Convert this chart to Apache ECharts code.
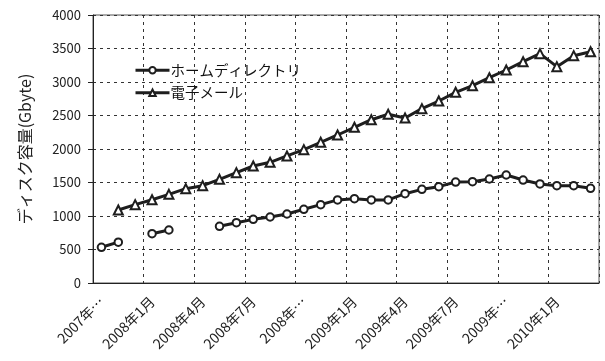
<!DOCTYPE html>
<html>
<head>
<meta charset="utf-8">
<script src="https://cdn.jsdelivr.net/npm/echarts@6/dist/echarts.min.js"></script>
<style>
  html, body { margin: 0; padding: 0; background: #fff; }
  #chart { width: 605px; height: 361px; }
</style>
</head>
<body>
<div id="chart"></div>
<script>
// Months from 2007-10 to 2010-03
const months = [
  '2007年10月', '2007年11月', '2007年12月',
  '2008年1月', '2008年2月', '2008年3月',
  '2008年4月', '2008年5月', '2008年6月',
  '2008年7月', '2008年8月', '2008年9月',
  '2008年10月', '2008年11月', '2008年12月',
  '2009年1月', '2009年2月', '2009年3月',
  '2009年4月', '2009年5月', '2009年6月',
  '2009年7月', '2009年8月', '2009年9月',
  '2009年10月', '2009年11月', '2009年12月',
  '2010年1月', '2010年2月', '2010年3月'
];

// Labels shown every third month (long ones are clipped with an ellipsis)
const tickLabels = [
  '2007年…', '2008年1月', '2008年4月', '2008年7月', '2008年…',
  '2009年1月', '2009年4月', '2009年7月', '2009年…', '2010年1月'
];

// Disk usage in GB; null = no measurement
const homeDir = [
  533, 610, null, 736, 791, null, null, 846, 900, 950,
  985, 1030, 1100, 1169, 1240, 1258, 1240, 1240, 1333, 1398,
  1438, 1507, 1512, 1552, 1612, 1537, 1478, 1452, 1452, 1413
];

const email = [
  null, 1090, 1169, 1243, 1323, 1408, 1453, 1547, 1647, 1746,
  1801, 1896, 1990, 2100, 2209, 2324, 2437, 2518, 2463, 2602,
  2716, 2846, 2945, 3064, 3179, 3303, 3423, 3229, 3393, 3452
];

const font = '"Noto Sans CJK JP", "Noto Sans", sans-serif';
const ink = '#1e1e1e';

const chart = echarts.init(document.getElementById('chart'), null, { renderer: 'canvas' });

const gridLine = { show: true, lineStyle: { color: '#333', width: 1, type: [3, 4] } };

chart.setOption({
  animation: false,
  backgroundColor: '#fff',
  textStyle: { fontFamily: font },
  grid: {
    left: 93, right: 6, top: 15, bottom: 78,
    show: true, borderColor: '#555', borderWidth: 1, backgroundColor: 'transparent'
  },
  legend: {
    orient: 'vertical',
    left: 129, top: 58,
    itemWidth: 34, itemHeight: 8, itemGap: 8,
    lineStyle: { width: 3, color: ink },
    textStyle: { fontFamily: font, fontSize: 14.5, color: '#111', padding: [0, 0, 0, -4] },
    data: ['ホームディレクトリ', '電子メール']
  },
  xAxis: {
    type: 'category',
    data: months,
    boundaryGap: true,
    axisLine: { lineStyle: { color: '#222', width: 1 } },
    axisTick: { interval: 2, length: 5, lineStyle: { color: '#222' } },
    splitLine: Object.assign({ interval: 2 }, gridLine),
    axisLabel: {
      interval: 2,
      rotate: 45,
      margin: 16,
      fontFamily: font,
      fontSize: 14,
      color: '#222',
      formatter: (v, i) => tickLabels[Math.floor(i / 3)]
    }
  },
  yAxis: {
    type: 'value',
    min: 0, max: 4000, interval: 500,
    name: 'ディスク容量(Gbyte)',
    nameLocation: 'middle',
    nameGap: 60,
    nameRotate: 90,
    nameTextStyle: { fontFamily: font, fontSize: 16, color: '#222' },
    axisLine: { show: true, lineStyle: { color: '#222', width: 1 } },
    axisTick: { show: true, length: 5, lineStyle: { color: '#222' } },
    splitLine: gridLine,
    axisLabel: {
      fontFamily: font, fontSize: 13, color: '#222', margin: 12,
      formatter: v => String(v)
    }
  },
  series: [
    {
      name: 'ホームディレクトリ',
      type: 'line',
      data: homeDir,
      connectNulls: false,
      symbol: 'circle',
      symbolSize: 7.5,
      lineStyle: { color: ink, width: 3 },
      itemStyle: { color: '#fff', borderColor: ink, borderWidth: 2 },
      z: 3
    },
    {
      name: '電子メール',
      type: 'line',
      data: email,
      connectNulls: false,
      symbol: 'triangle',
      symbolSize: 9,
      lineStyle: { color: ink, width: 3 },
      itemStyle: { color: '#fff', borderColor: ink, borderWidth: 2 },
      z: 3
    }
  ]
});
</script>
</body>
</html>
